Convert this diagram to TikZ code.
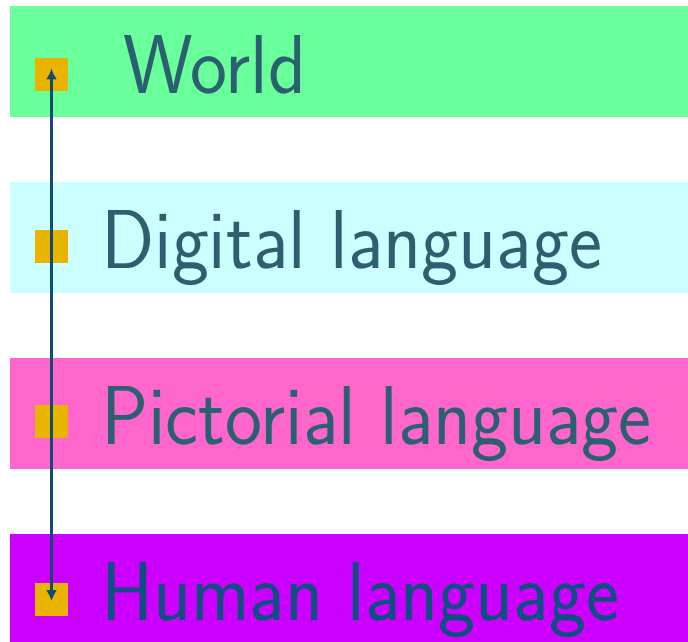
\documentclass[tikz,border=0pt]{standalone}
\usepackage{fontspec}
\usetikzlibrary{arrows.meta}
\definecolor{bandgreen}{RGB}{105,255,155}
\definecolor{bandcyan}{RGB}{204,255,255}
\definecolor{bandpink}{RGB}{255,102,204}
\definecolor{bandpurple}{RGB}{204,0,255}
\definecolor{markgold}{RGB}{232,180,0}
\definecolor{arrowblue}{RGB}{15,76,117}
\definecolor{textteal}{RGB}{42,96,112}
\definecolor{textblue}{RGB}{14,78,128}
\newcommand{\bandfont}{\sffamily\fontsize{83.6}{90}\selectfont}

\begin{document}
\begin{tikzpicture}[x=1pt,y=-1pt,
  band/.style={fill=#1, draw=none, inner sep=0pt, minimum width=678pt,
    minimum height=111pt, anchor=north west},
  marker/.style={fill=markgold, inner sep=0pt, minimum size=33pt},
  bandtext/.style={text=#1, inner sep=0pt, anchor=base west, font=\bandfont},
  bandtext/.default=textteal]
\useasboundingbox (0,0) rectangle (688,642);

% Bands
\node[band=bandgreen] (world) at (10,6) {};
\node[band=bandcyan] (digital) at (10,182) {};
\node[band=bandpink] (pictorial) at (10,358) {};
\node[band=bandpurple] (human) at (10,534) {};

% Markers
\node[marker] (mworld) at (51.5,74.5) {};
\node[marker] (mdigital) at (51.5,246.5) {};
\node[marker] (mpictorial) at (51.5,421.5) {};
\node[marker] (mhuman) at (51.5,599) {};

% Texts
\node[bandtext] (tworld) at (123,93) {\scalebox{0.94}[1]{World}};
\node[bandtext] (tdigital) at (101,268) {\scalebox{0.94}[1]{Digital language}};
\node[bandtext] (tpictorial) at (101,444) {\scalebox{0.94}[1]{Pictorial language}};
\node[bandtext=textblue] (thuman) at (101,620) {\scalebox{0.94}[1]{Human language}};

% Arrow
\draw[arrowblue, line width=3.5pt, {Latex[length=11pt,width=11pt]}-{Latex[length=11pt,width=11pt]},
  shorten <=-6pt, shorten >=-2pt] (mworld.center) -- (mhuman.center);

\end{tikzpicture}
\end{document}
